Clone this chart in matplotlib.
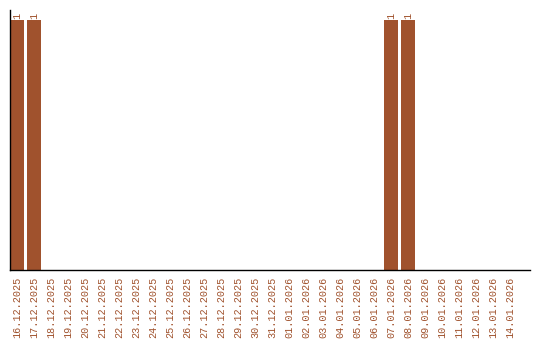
import matplotlib
matplotlib.use("Agg")
import matplotlib.pyplot as plt

dates = ["16.12.2025", "17.12.2025", "18.12.2025", "19.12.2025", "20.12.2025",
         "21.12.2025", "22.12.2025", "23.12.2025", "24.12.2025", "25.12.2025",
         "26.12.2025", "27.12.2025", "28.12.2025", "29.12.2025", "30.12.2025",
         "31.12.2025", "01.01.2026", "02.01.2026", "03.01.2026", "04.01.2026",
         "05.01.2026", "06.01.2026", "07.01.2026", "08.01.2026", "09.01.2026",
         "10.01.2026", "11.01.2026", "12.01.2026", "13.01.2026", "14.01.2026"]
values = [1, 1, 0, 0, 0, 0, 0, 0, 0, 0, 0, 0, 0, 0, 0, 0, 0, 0, 0, 0,
          0, 0, 1, 1, 0, 0, 0, 0, 0, 0]

color = "#A0522D"
font = "Liberation Mono"
fig = plt.figure(figsize=(5.4, 3.4), dpi=100)
ax = fig.add_axes([10/540, 70/340, 520/540, 260/340])
x = list(range(len(dates)))
bw = 0.82
ax.bar(x, values, width=bw, color=color)
for xi, v in zip(x, values):
    if v:
        ax.text(xi, v + 0.005, str(v), rotation=90, ha="center", va="bottom",
                fontsize=7.3, family=font, color=color)
ax.set_xlim(-bw/2, -bw/2 + 520/17)
ax.set_ylim(0, 1.04)
ax.set_xticks(x)
ax.set_xticklabels(dates, rotation=90, fontsize=7.3, family=font, color=color)
ax.tick_params(axis="x", length=0, pad=5)
ax.set_yticks([])
ax.spines["top"].set_visible(False)
ax.spines["right"].set_visible(False)
for s in ("left", "bottom"):
    ax.spines[s].set_linewidth(1)
    ax.spines[s].set_color("black")
fig.savefig("out.png", dpi=100)
